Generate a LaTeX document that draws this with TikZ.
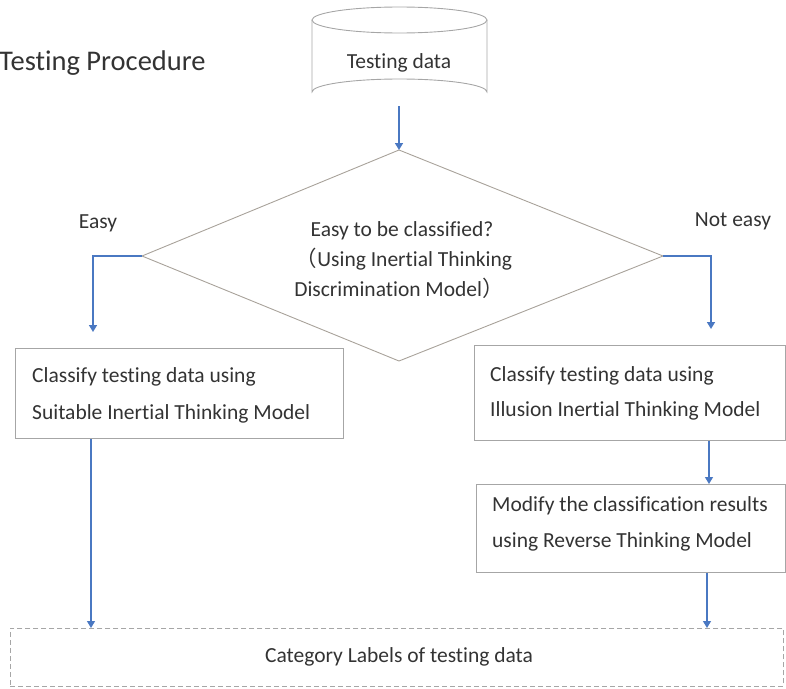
\documentclass[tikz,border=0pt]{standalone}
\usepackage{fontspec}
\setmainfont{Carlito}[Ligatures={NoCommon}]
\newfontfamily\cjkfont{Noto Sans CJK SC}
\usetikzlibrary{arrows.meta}
\definecolor{edgegray}{HTML}{A6A6A6}
\definecolor{diagray}{HTML}{A8A29A}
\definecolor{flowblue}{HTML}{4A78C2}
\definecolor{inkgray}{HTML}{333333}
\tikzset{
  boxline/.style={draw=edgegray, line width=0.9pt},
  flow/.style={draw=flowblue, line width=1.6pt, -{Triangle[width=8pt,length=7pt]}},
  txt/.style={font=\fontsize{21.5}{26}\selectfont, text=inkgray, inner sep=0pt},
  linel/.style={txt, anchor=base west},
  linec/.style={txt, anchor=base},
}
\begin{document}
\begin{tikzpicture}[x=1pt,y=-1pt]
\useasboundingbox (0,0) rectangle (786,688);
% title
\node[txt, font=\fontsize{28.5}{32}\selectfont, anchor=base west] (title) at (-1,70) {Testing Procedure};
% cylinder
\draw[boxline] (312,20) -- (312,92) arc[start angle=180, end angle=360, x radius=87.5, y radius=13] -- (487,20);
\draw[boxline] (399.5,20) ellipse[x radius=87.5, y radius=13];
\node[linec] (data) at (399,68) {Testing data};
\coordinate (databot) at (399,106);
% diamond
\coordinate (dtop) at (399,150);
\coordinate (dleft) at (142,256);
\coordinate (dright) at (663,256);
\coordinate (dbot) at (399,361);
\draw[draw=diagray, line width=0.9pt] (dtop) -- (dright) -- (dbot) -- (dleft) -- cycle;
\node[linec] (q1) at (402,236) {Easy to be classified?};
\node[linec] (q2) at (404,266) {{\cjkfont （}Using Inertial Thinking};
\node[linec] (q3) at (399,296) {Discrimination Model{\cjkfont ）}};
% labels
\node[linec] (easy) at (98,228) {Easy};
\node[linec] (noteasy) at (733,226) {Not easy};
% left box
\node[boxline, minimum width=328pt, minimum height=90pt, anchor=north west] (lbox) at (15,348) {};
\node[linel] (l1) at (32,382) {Classify testing data using};
\node[linel] (l2) at (32,419) {Suitable Inertial Thinking Model};
% right box 1
\node[boxline, minimum width=311pt, minimum height=95pt, anchor=north west] (rbox) at (474,345) {};
\node[linel] (r1) at (490,381) {Classify testing data using};
\node[linel] (r2) at (490,416) {Illusion Inertial Thinking Model};
% right box 2
\node[boxline, minimum width=309pt, minimum height=88pt, anchor=north west] (rbox2) at (476,484) {};
\node[linel] (m1) at (492,511) {Modify the classification results};
\node[linel] (m2) at (492,547) {using Reverse Thinking Model};
% bottom dashed box
\node[draw=edgegray, line width=0.9pt, dashed, dash pattern=on 5pt off 3pt, minimum width=773pt, minimum height=58pt, anchor=north west] (cat) at (10,628) {};
\node[linec] (cattext) at (399,662) {Category Labels of testing data};
% connectors
\draw[flow] (databot) -- (dtop);
\draw[flow] (dleft) -- (93,256) -- (93,332);
\draw[flow] (dright) -- (711,256) -- (711,329);
\draw[flow, line width=1.2pt] (rbox.south -| 709,0) -- (rbox2.north -| 709,0);
\draw[flow, line width=1.2pt] (lbox.south -| 91,0) -- (cat.north -| 91,0);
\draw[flow, line width=1.2pt] (rbox2.south -| 707,0) -- (cat.north -| 707,0);
\end{tikzpicture}
\end{document}
